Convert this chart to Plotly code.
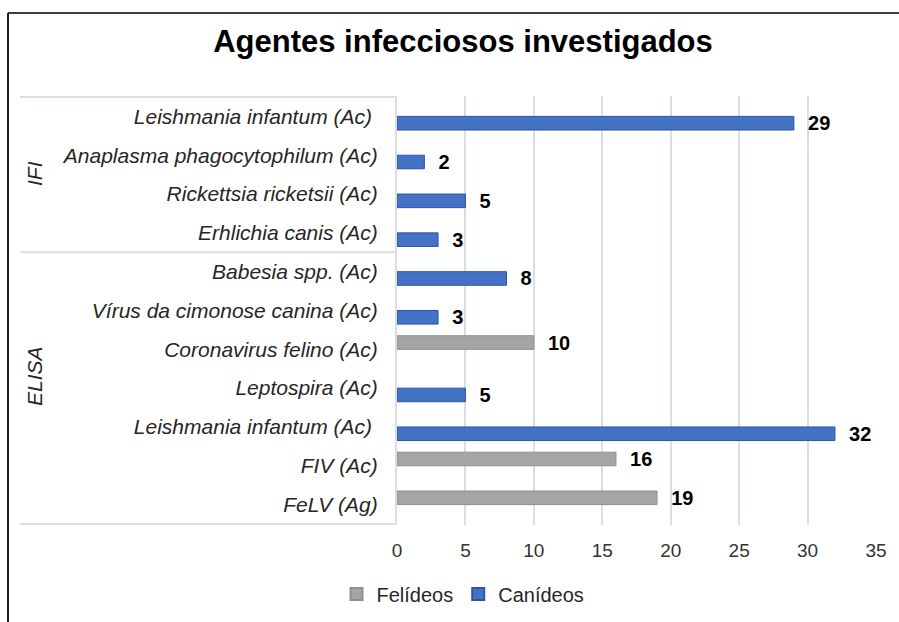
import plotly.graph_objects as go

# ---- data ----
groups = ["IFI"] * 4 + ["ELISA"] * 7
labels = [
    "Leishmania infantum (Ac)\u00a0",
    "Anaplasma phagocytophilum (Ac)",
    "Rickettsia ricketsii (Ac)",
    "Erhlichia canis (Ac)",
    "Babesia spp. (Ac)",
    "Vírus da cimonose canina (Ac)",
    "Coronavirus felino (Ac)",
    "Leptospira (Ac)",
    "Leishmania infantum (Ac)\u00a0",
    "FIV (Ac)",
    "FeLV (Ag)",
]
felideos = [None, None, None, None, None, None, 10, None, None, 16, 19]
canideos = [29, 2, 5, 3, 8, 3, None, 5, 32, None, None]
x_ticks = [0, 5, 10, 15, 20, 25, 30, 35]

keys = [f"{g}|{l}" for g, l in zip(groups, labels)]

W, H = 899, 622
ML, MR, MT, MB = 397, 23, 96, 97
PW, PH = W - ML - MR, H - MT - MB


def px(x):
    return (x - ML) / PW


def py(y):
    return (H - MB - y) / PH


FONT = "Arial, 'Liberation Sans', sans-serif"

fig = go.Figure()
fig.add_trace(go.Bar(
    name="Felídeos", y=keys, x=felideos, orientation="h",
    marker=dict(color="#A5A5A5", line=dict(color="#8E8E8E", width=1)),
    texttemplate="\u00a0\u00a0<b>%{x}</b>", textposition="outside",
    constraintext="none",
    textfont=dict(family=FONT, size=20, color="#000000"),
    cliponaxis=False,
))
fig.add_trace(go.Bar(
    name="Canídeos", y=keys, x=canideos, orientation="h",
    marker=dict(color="#4472C4", line=dict(color="#2F55A0", width=1)),
    texttemplate="\u00a0\u00a0<b>%{x}</b>", textposition="outside",
    constraintext="none",
    textfont=dict(family=FONT, size=20, color="#000000"),
    cliponaxis=False,
))

line_col = "#D9DDE4"
shapes = []
# label box lines
n_ifi = groups.count("IFI")
for yv in [-0.5, n_ifi - 0.5, len(keys) - 0.5]:
    shapes.append(dict(type="line", xref="paper", yref="y",
                       x0=px(20), x1=0, y0=yv, y1=yv,
                       line=dict(color=line_col, width=2)))
# outer frame (top and left)
shapes.append(dict(type="line", xref="paper", yref="paper",
                   x0=px(8), x1=px(905), y0=py(13), y1=py(13),
                   line=dict(color="#404040", width=2)))
shapes.append(dict(type="line", xref="paper", yref="paper",
                   x0=px(8), x1=px(8), y0=py(13), y1=py(630),
                   line=dict(color="#202020", width=2)))

annotations = [
    dict(text="<i>IFI</i>", xref="paper", yref="paper", x=px(35),
         y=py(174), textangle=-90, showarrow=False,
         xanchor="center", yanchor="middle",
         font=dict(family=FONT, size=21, color="#262626")),
    dict(text="<i>ELISA</i>", xref="paper", yref="paper", x=px(34),
         y=py(376), textangle=-90, showarrow=False,
         xanchor="center", yanchor="middle",
         font=dict(family=FONT, size=21, color="#262626")),
]

fig.update_layout(
    template="none",
    width=W, height=H, autosize=False,
    margin=dict(l=ML, r=MR, t=MT, b=MB, pad=0),
    paper_bgcolor="white", plot_bgcolor="white",
    barmode="group", bargap=0.3, bargroupgap=0,
    title=dict(text="<b>Agentes infecciosos investigados</b>",
               xref="container", yref="container",
               x=463 / W, xanchor="center", y=1 - 41 / H, yanchor="middle",
               font=dict(family=FONT, size=31, color="#000000")),
    xaxis=dict(range=[0, 35], tickvals=x_ticks, showgrid=True,
               gridcolor=line_col, gridwidth=2, zeroline=False,
               showline=False, ticks="", ticklabelstandoff=12,
               automargin=False,
               tickfont=dict(family=FONT, size=19, color="#333333")),
    yaxis=dict(type="category", categoryorder="array", categoryarray=keys,
               tickvals=keys, ticktext=[f"<i>{l}</i>" for l in labels],
               autorange="reversed", showgrid=False, zeroline=False,
               showline=True, linecolor=line_col, linewidth=2,
               ticks="", ticklabelstandoff=13, automargin=False,
               tickfont=dict(family=FONT, size=21, color="#262626")),
    legend=dict(orientation="h", xref="container", yref="container",
                x=463 / W, xanchor="center", y=1 - 594 / H, yanchor="middle",
                font=dict(family=FONT, size=20, color="#262626"),
                itemsizing="constant", bgcolor="rgba(0,0,0,0)"),
    shapes=shapes, annotations=annotations,
)

fig.write_html("out.html", config={"displayModeBar": False},
               post_script="document.body.style.margin='0';")
